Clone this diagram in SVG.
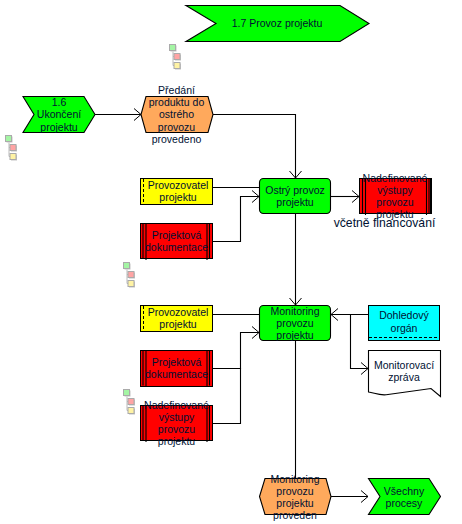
<svg xmlns="http://www.w3.org/2000/svg" width="462" height="524" viewBox="0 0 462 524">
<style>
text{font-family:"Liberation Sans",Arial,sans-serif;font-size:10.5px;fill:#001133;text-anchor:middle}
.big{font-size:12.2px}
.s{stroke:#000;stroke-width:1.1;shape-rendering:crispEdges}
.fn{stroke:#000;stroke-width:1.1}
.g{fill:#00ff00}.o{fill:#ffa95c}.r{fill:#ff0000}.y{fill:#ffff00}.c{fill:#00ffff}.w{fill:#fff}
.l{fill:none;stroke:#000;stroke-width:1.1}
</style>
<defs>
<marker id="a" markerUnits="userSpaceOnUse" markerWidth="10" markerHeight="14" refX="8.5" refY="7" orient="auto"><path d="M1.500 1L8.500 7L1.500 13" fill="none" stroke="#000" stroke-width="1"/></marker>
<g id="mini"><path d="M3.500 7V21M3.500 12H5M3.500 21H5" fill="none" stroke="#bbb" stroke-width="1"/><rect x="1" y="1" width="6" height="6" fill="#c4c4c4"/><rect x="5.500" y="10" width="6" height="6" fill="#c4c4c4"/><rect x="5.500" y="19" width="6" height="6" fill="#c4c4c4"/><rect x="0" y="0" width="6" height="6" fill="#a4f5a4" stroke="#aaa"/><rect x="4.500" y="9" width="6" height="6" fill="#ffa4a4" stroke="#aaa"/><rect x="4.500" y="18" width="6" height="6" fill="#fff3a4" stroke="#aaa"/></g>
<g id="bars"><path d="M2.500 0V35M5.500 0V36.500M66.500 0V36.500M69 0V35" fill="none" stroke="#000" stroke-width="1.100"/></g>
</defs>
<g id="connectors">
<path class="l" d="M95 114.500H141" marker-end="url(#a)"/>
<path class="l" d="M213 114.500H295.500V178" marker-end="url(#a)"/>
<path class="l" d="M213 187.500H259.500"/>
<path class="l" d="M213 241.500H240.500V196.500H259" marker-end="url(#a)"/>
<path class="l" d="M331 196.500H359" marker-end="url(#a)"/>
<path class="l" d="M295.500 214V305" marker-end="url(#a)"/>
<path class="l" d="M213 314.500H259.500"/>
<path class="l" d="M213 368.500H240.500V332.500H259" marker-end="url(#a)"/>
<path class="l" d="M213 423.500H240.500V368"/>
<path class="l" d="M368 314.500H331" marker-end="url(#a)"/>
<path class="l" d="M350.500 314.500V368.500H368" marker-end="url(#a)"/>
<path class="l" d="M295.500 341V478"/>
<path class="l" d="M331 496.500H368" marker-end="url(#a)"/>
</g>
<g id="n-provoz"><polygon class="g fn" points="186,5.500 340,5.500 369,23.500 340,41.500 186,41.500 216,23.500"/><text x="277" y="27">1.7 Provoz projektu</text></g>
<g id="n-ukonceni"><polygon class="g fn" points="23,96.500 84,96.500 95,114.500 84,132.500 23,132.500 34,114.500"/><text x="59" y="106">1.6</text><text x="59" y="118">Ukončení</text><text x="59" y="130.500">projektu</text></g>
<g id="n-predani"><polygon class="o fn" points="146,96.500 208,96.500 213,114.500 208,132.500 146,132.500 141,114.500"/><text x="176.500" y="94">Předání</text><text x="176.500" y="106">produktu do</text><text x="176.500" y="118">ostrého</text><text x="176.500" y="130.500">provozu</text><text x="176.500" y="143">provedeno</text></g>
<g id="n-provozovatel1"><rect class="y s" x="140.500" y="178.500" width="72" height="26"/><path d="M143.500 179V204" stroke="#000" stroke-width="1" stroke-dasharray="3 2"/><text x="178" y="189">Provozovatel</text><text x="178" y="201">projektu</text></g>
<g id="n-dokumentace1"><rect class="r s" x="140.500" y="223.500" width="72" height="35"/><use href="#bars" x="140.500" y="223.500"/><text x="176.500" y="239">Projektová</text><text x="176.500" y="251">dokumentace</text></g>
<g id="n-ostry"><rect class="g fn" x="259.500" y="178.500" width="71" height="35" rx="4"/><text x="295" y="194">Ostrý provoz</text><text x="295" y="206">projektu</text></g>
<g id="n-vystupy1"><rect class="r s" x="359.500" y="178.500" width="71.500" height="35"/><use href="#bars" x="360" y="178.500"/><text x="395" y="182">Nadefinované</text><text x="395" y="194">výstupy</text><text x="395" y="206">provozu</text><text x="395" y="218">projektu</text><text class="big" x="384.500" y="227">včetně financování</text></g>
<g id="n-monitoring"><rect class="g fn" x="259.500" y="305.500" width="71" height="35" rx="4"/><text x="295" y="315">Monitoring</text><text x="295" y="327">provozu</text><text x="295" y="339">projektu</text></g>
<g id="n-provozovatel2"><rect class="y s" x="140.500" y="305.500" width="72" height="26"/><path d="M143.500 306V331" stroke="#000" stroke-width="1" stroke-dasharray="3 2"/><text x="178" y="316">Provozovatel</text><text x="178" y="328">projektu</text></g>
<g id="n-dokumentace2"><rect class="r s" x="140.500" y="350.500" width="72" height="36"/><use href="#bars" x="140.500" y="350.500"/><text x="176.500" y="366">Projektová</text><text x="176.500" y="378">dokumentace</text></g>
<g id="n-vystupy2"><rect class="r s" x="140.500" y="405.500" width="72" height="35"/><use href="#bars" x="140.500" y="405.500"/><text x="176.500" y="409">Nadefinované</text><text x="176.500" y="421">výstupy</text><text x="176.500" y="433">provozu</text><text x="176.500" y="445">projektu</text></g>
<g id="n-dohled"><rect class="c s" x="368.500" y="305.500" width="71" height="35"/><path d="M369 337.500H439" stroke="#000" stroke-width="1" stroke-dasharray="3 2"/><text x="404" y="319">Dohledový</text><text x="404" y="332">orgán</text></g>
<g id="n-zprava"><path class="w fn" d="M368.500 350.500H440.500V396.500L431 388.500L388 394.500C380 396 375 393 368.500 392Z"/><text x="404" y="369">Monitorovací</text><text x="404" y="381">zpráva</text></g>
<g id="n-proveden"><polygon class="o fn" points="265,478.500 326,478.500 331,496.500 326,514.500 265,514.500 259.500,496.500"/><text x="295" y="483">Monitoring</text><text x="295" y="495">provozu</text><text x="295" y="507">projektu</text><text x="295" y="519">proveden</text></g>
<g id="n-vsechny"><polygon class="g fn" points="368.500,478.500 429,478.500 440.500,496.500 429,514.500 368.500,514.500 380,496.500"/><text x="404" y="495">Všechny</text><text x="404" y="507">procesy</text></g>
<g id="mini1"><use href="#mini" x="5.500" y="135.500"/></g>
<g id="mini2"><use href="#mini" x="169.500" y="44.500"/></g>
<g id="mini3"><use href="#mini" x="123.500" y="262.500"/></g>
<g id="mini4"><use href="#mini" x="123.500" y="389.500"/></g>
</svg>
